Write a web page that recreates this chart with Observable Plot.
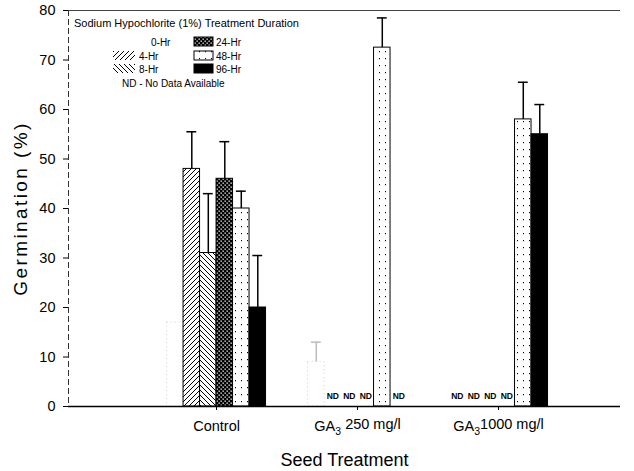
<!DOCTYPE html>
<html><head><meta charset="utf-8">
<script src="https://cdn.jsdelivr.net/npm/d3@7"></script>
<script src="https://cdn.jsdelivr.net/npm/@observablehq/plot@0.6"></script>
<style>
body{margin:0;background:#fff;}
#chart{width:634px;height:471px;}
</style></head><body><div id="chart"></div>
<script>
// ---- data ----
const groups = ["Control", "GA₃ 250 mg/l", "GA₃1000 mg/l"];
const durations = ["0-Hr", "4-Hr", "8-Hr", "24-Hr", "48-Hr", "96-Hr"];
// germination (%) per duration, one value per seed treatment (null = ND)
const hr0  = [17, 9, null];
const hr4  = [48, null, null];
const hr8  = [31, null, null];
const hr24 = [46, null, null];
const hr48 = [40, 72.5, 58];
const hr96 = [20, null, 55];
// upper error bar lengths
const err0  = [0, 4, null];
const err4  = [7.5, null, null];
const err8  = [12, null, null];
const err24 = [7.5, null, null];
const err48 = [3.5, 6, 7.5];
const err96 = [10.5, null, 6];
const yTicks = [0, 10, 20, 30, 40, 50, 60, 70, 80];
const legendTitle = "Sodium Hypochlorite (1%) Treatment Duration";
const ndNote = "ND - No Data Available";

// ---- build table ----
const FONT = "'Liberation Sans', Arial, Helvetica, sans-serif";
const values = [hr0, hr4, hr8, hr24, hr48, hr96];
const errs = [err0, err4, err8, err24, err48, err96];
const fills = ["white", "url(#p4)", "url(#p8)", "url(#p24)", "url(#p48)", "black"];
const bw = 0.117;
const rows = [];
groups.forEach((g, gi) => durations.forEach((dur, si) => {
  const v = values[si][gi];
  const xc = (gi + 1) + (si - 2.5) * bw;
  rows.push({group: g, dur, si, xc, value: v, err: errs[si][gi], nd: v == null});
}));
const bars = rows.filter(d => !d.nd);
const zeroBars = bars.filter(d => d.si === 0);
const mainBars = bars.filter(d => d.si !== 0);
const errRows = bars.filter(d => d.err > 0);
const ndRows = rows.filter(d => d.nd);
const xDomain = [-0.05, 3.865];

const plot = Plot.plot({
  width: 634, height: 471,
  marginLeft: 68, marginRight: 14, marginTop: 10, marginBottom: 65,
  style: {fontFamily: FONT, fontSize: "14.5px", color: "black", background: "white"},
  x: {domain: xDomain},
  y: {domain: [0, 80]},
  color: {type: "identity"},
  marks: [
    Plot.rect(zeroBars, {x1: d => d.xc - bw/2, x2: d => d.xc + bw/2, y1: () => 0, y2: "value",
      fill: "white", stroke: "#cfcfcf", strokeDasharray: "1,3", strokeWidth: 1}),
    Plot.rect(mainBars, {x1: d => d.xc - bw/2, x2: d => d.xc + bw/2, y1: () => 0, y2: "value",
      fill: d => fills[d.si], stroke: "black", strokeWidth: 1}),
    Plot.ruleX(errRows, {x: "xc", y1: "value", y2: d => d.value + d.err,
      stroke: d => d.si === 0 ? "#bbb" : "black", strokeWidth: 1.5}),
    Plot.ruleY(errRows, {y: d => d.value + d.err, x1: d => d.xc - 0.035, x2: d => d.xc + 0.035,
      stroke: d => d.si === 0 ? "#bbb" : "black", strokeWidth: 1.5}),
    Plot.text(ndRows, {x: "xc", y: () => 0, text: () => "ND", dy: -8, fontSize: 8.5,
      fontWeight: "bold", lineAnchor: "bottom"}),
    Plot.ruleY([0], {stroke: "black", strokeWidth: 1.5}),
    Plot.ruleY([80], {stroke: "#444", strokeWidth: 1}),
    Plot.ruleX([xDomain[0]], {stroke: "#333", strokeWidth: 1, strokeDasharray: "6,3"}),
    Plot.axisY({ticks: yTicks, tickSize: 5, tickPadding: 8, fontSize: 14.5, label: null}),
    Plot.axisX({ticks: [1, 2, 3], tickFormat: i => groups[i - 1], tickSize: 4, tickPadding: 10,
      fontSize: 14.5, label: null}),
    Plot.text(["Germination (%)"], {frameAnchor: "left", text: d => d, rotate: -90, dx: -48,
      fontSize: 19, lineAnchor: "middle", textAnchor: "middle"}),
    Plot.text(["Seed Treatment"], {frameAnchor: "bottom", text: d => d, dy: 54,
      fontSize: 18, lineAnchor: "middle", textAnchor: "middle"})
  ]
});

const svg = d3.select(plot);
// patterns
const defs = svg.insert("defs", ":first-child");
function pat(id, w, h, draw) {
  const p = defs.append("pattern").attr("id", id).attr("patternUnits", "userSpaceOnUse")
    .attr("width", w).attr("height", h);
  draw(p);
}
pat("p4", 5, 5, p => {
  p.append("rect").attr("width", 5).attr("height", 5).attr("fill", "white");
  p.append("path").attr("d", "M0,5L5,0M-1,1L1,-1M4,6L6,4").attr("stroke", "black").attr("stroke-width", 1);
});
pat("p8", 5, 5, p => {
  p.append("rect").attr("width", 5).attr("height", 5).attr("fill", "white");
  p.append("path").attr("d", "M0,0L5,5M-1,4L1,6M4,-1L6,1").attr("stroke", "black").attr("stroke-width", 1);
});
pat("p24", 4, 4, p => {
  p.append("rect").attr("width", 4).attr("height", 4).attr("fill", "black");
  p.append("rect").attr("x", 0.5).attr("y", 0.5).attr("width", 1.3).attr("height", 1.3).attr("fill", "white");
  p.append("rect").attr("x", 2.5).attr("y", 2.5).attr("width", 1.3).attr("height", 1.3).attr("fill", "white");
});
pat("p48", 6, 7, p => {
  p.append("rect").attr("width", 6).attr("height", 7).attr("fill", "white");
  p.append("rect").attr("x", 1).attr("y", 2).attr("width", 1).attr("height", 1.2).attr("fill", "black");
});

// subscript 3 in GA3 labels; widen y label
svg.selectAll("text").each(function() {
  const t = this.textContent;
  if (t.includes("₃") && this.children.length === 0) {
    const parts = t.split("₃");
    const el = d3.select(this);
    el.text(null);
    el.append("tspan").text(parts[0]);
    el.append("tspan").attr("dy", "0.45em").attr("font-size", "0.72em").text("3");
    el.append("tspan").attr("dy", "-0.45em").text(parts[1]);
  }
  if (t === "Germination (%)") {
    d3.select(this).attr("letter-spacing", "2.4px");
  }
});

// legend
const lg = svg.append("g").attr("font-family", FONT).attr("font-size", 10)
  .attr("fill", "black").attr("text-anchor", "start");
lg.append("text").attr("x", 74).attr("y", 27).attr("font-size", 11).text(legendTitle);
const legendPos = [
  {sx: 113, sw: 22, tx: 151, y: 37},
  {sx: 113, sw: 22, tx: 139, y: 51},
  {sx: 113, sw: 22, tx: 139, y: 64},
  {sx: 194, sw: 19, tx: 216, y: 37},
  {sx: 194, sw: 19, tx: 216, y: 51},
  {sx: 194, sw: 19, tx: 216, y: 64}
];
durations.forEach((dur, i) => {
  const p = legendPos[i];
  if (i !== 0) {
    lg.append("rect").attr("x", p.sx).attr("y", p.y).attr("width", p.sw).attr("height", 9)
      .attr("fill", fills[i]).attr("stroke", (i >= 3) ? "black" : "none").attr("stroke-width", 1);
  }
  lg.append("text").attr("x", p.tx).attr("y", p.y + 8.5).text(dur);
});
lg.append("text").attr("x", 122).attr("y", 87).text(ndNote);

document.getElementById("chart").appendChild(plot);
</script>
</body></html>
